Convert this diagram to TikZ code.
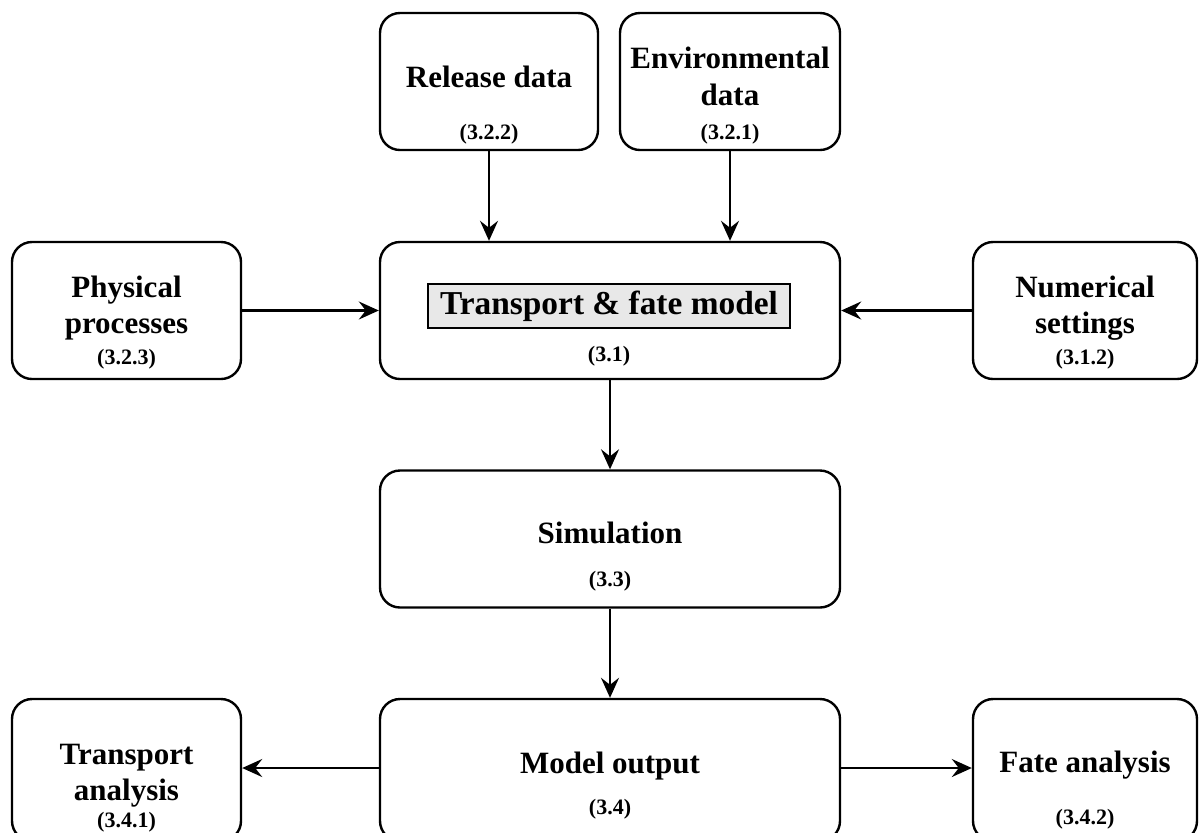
\documentclass[tikz,border=0pt]{standalone}
\usepackage{fontspec}
\setmainfont{Liberation Serif}
\usetikzlibrary{arrows.meta}

\begin{document}
\begin{tikzpicture}[x=0.5pt, y=-0.5pt,
    box/.style={draw, line width=1.2pt, rounded corners=10pt, minimum height=68.5pt},
    titlebox/.style={draw, line width=0.9pt, fill=gray!18, minimum width=181pt, minimum height=22pt,
        font=\fontsize{16.7}{19}\selectfont\bfseries},
    lbl/.style={anchor=base, font=\fontsize{15.5}{18}\selectfont\bfseries},
    num/.style={anchor=base, font=\fontsize{11}{13}\selectfont\bfseries},
    flow/.style={line width=1.1pt, -{Stealth[length=10pt, width=9pt, inset=3.5pt]}}
]

    \useasboundingbox (0,0) rectangle (1203,832);

    % Input boxes
    \node[box, minimum width=109pt] (release)  at (489,81.5)   {};
    \node[box, minimum width=110pt] (envdata)  at (730,81.5)   {};
    \node[box, minimum width=114.5pt] (physproc) at (126.5,310.5) {};
    \node[box, minimum width=112pt] (numset)   at (1085,310.5) {};

    % Middle column
    \node[box, minimum width=230pt] (model)  at (610,310.5) {};
    \node[box, minimum width=230pt] (sim)    at (610,539)   {};
    \node[box, minimum width=230pt, minimum height=71pt] (output) at (610,770) {};

    % Analysis boxes
    \node[box, minimum width=114.5pt, minimum height=71pt] (transana) at (126.5,770) {};
    \node[box, minimum width=112pt, minimum height=71pt]   (fateana)  at (1085,770)  {};

    % Box titles
    \node[titlebox] (model-title) at (609,306) {Transport \& fate model};
    \foreach \n/\x/\y/\t in {release/489/87/Release data,
                             envdata/730/68/Environmental,
                             envdata2/730/105/data,
                             physproc/126.5/297/Physical,
                             physproc2/126.5/333/processes,
                             numset/1085/297/Numerical,
                             numset2/1085/333/settings,
                             sim/610/543/Simulation,
                             output/610/773/Model output,
                             transana/126.5/764/Transport,
                             transana2/126.5/800/analysis,
                             fateana/1085/772/Fate analysis}
        \node[lbl] (\n-lbl) at (\x,\y) {\t};

    % Section numbers
    \foreach \n/\x/\y/\t in {release/489/139/{(3.2.2)},
                             envdata/730/139/{(3.2.1)},
                             physproc/126.5/364/{(3.2.3)},
                             model/609/361/{(3.1)},
                             numset/1085/364/{(3.1.2)},
                             sim/610/586/{(3.3)},
                             output/610/814/{(3.4)},
                             transana/126.5/827/{(3.4.1)},
                             fateana/1085/824/{(3.4.2)}}
        \node[num] (\n-num) at (\x,\y) {\t};

    % Connectors
    \draw[flow] (release.south) -- (release.south |- model.north);
    \draw[flow] (envdata.south) -- (envdata.south |- model.north);
    \draw[flow] (physproc) -- (model);
    \draw[flow] (numset) -- (model);
    \draw[flow] (model) -- (sim);
    \draw[flow] (sim) -- (output);
    \draw[flow] (output.west |- 0,768) -- (transana.east |- 0,768);
    \draw[flow] (output.east |- 0,768) -- (fateana.west |- 0,768);

\end{tikzpicture}
\end{document}
